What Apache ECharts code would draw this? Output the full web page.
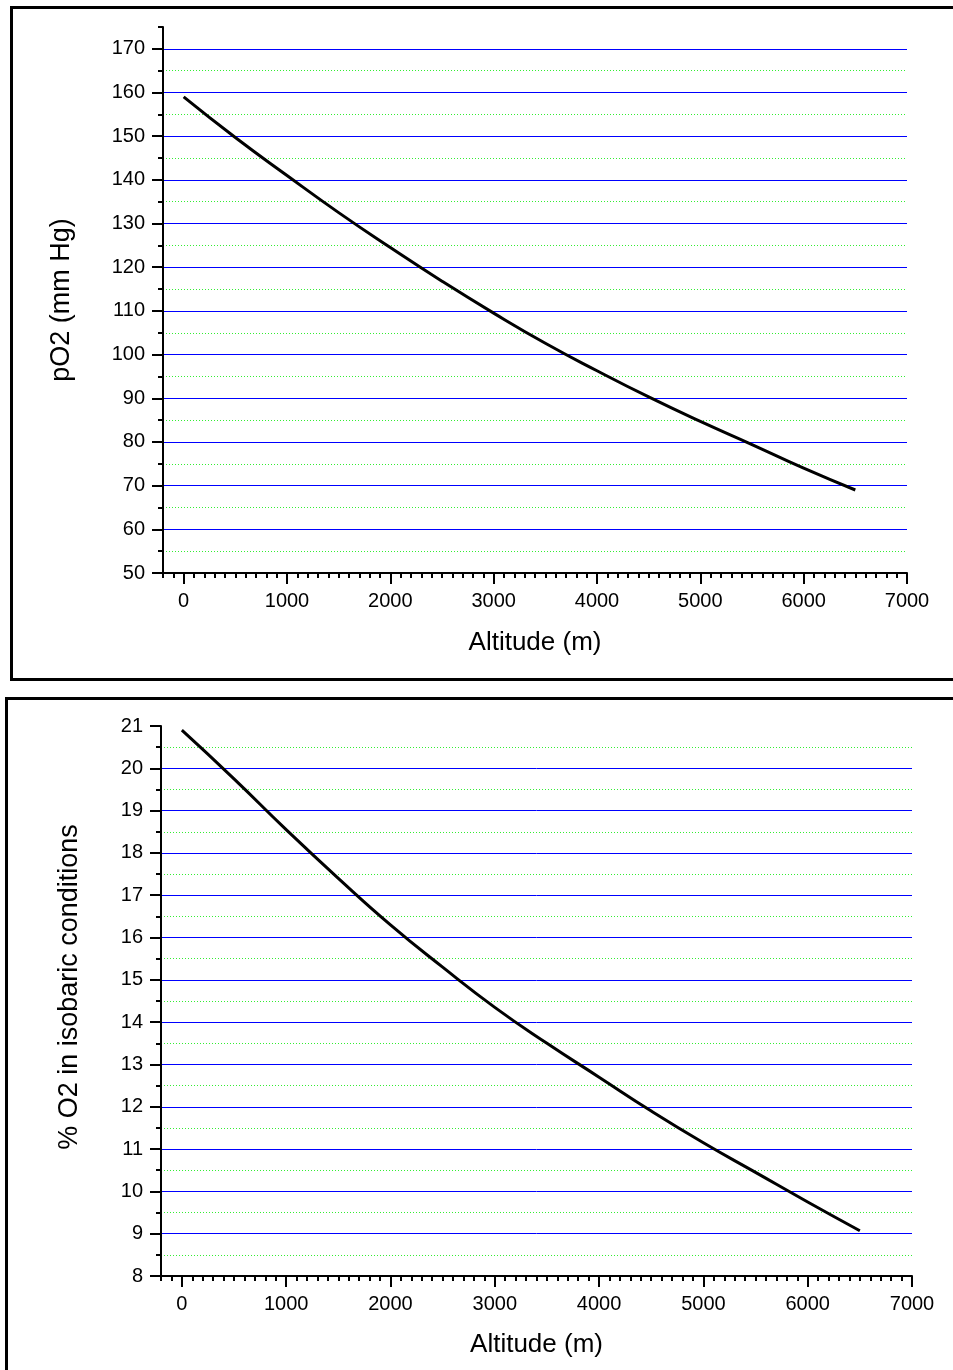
<!DOCTYPE html>
<html>
<head>
<meta charset="utf-8">
<script src="https://cdn.jsdelivr.net/npm/echarts@6/dist/echarts.min.js"></script>
<style>
  html, body { margin: 0; padding: 0; background: #fff; }
  #chart { width: 953px; height: 1370px; }
</style>
</head>
<body>
<div id="chart"></div>
<script>
  // altitude (m) and the two curves
  var altitude = [0, 500, 1000, 1500, 2000, 2500, 3000, 3500, 4000, 4500, 5000, 5500, 6000, 6500];
  var po2 = [159, 149.7, 141, 132.5, 124.5, 116.8, 109.5, 102.6, 96.3, 90.3, 84.7, 79.4, 74, 69];
  var pctO2 = [20.9, 19.75, 18.55, 17.4, 16.3, 15.3, 14.35, 13.5, 12.7, 11.9, 11.15, 10.45, 9.75, 9.07];

  var xTicks = [0, 1000, 2000, 3000, 4000, 5000, 6000, 7000];
  var po2Ticks = [50, 60, 70, 80, 90, 100, 110, 120, 130, 140, 150, 160, 170];
  var pctTicks = [8, 9, 10, 11, 12, 13, 14, 15, 16, 17, 18, 19, 20, 21];

  var FONT = 'Liberation Sans, Arial, sans-serif';
  var BLUE = '#0000ff';
  var GREEN = '#33ee33';

  var chart = echarts.init(document.getElementById('chart'));

  function pairs(xs, ys) {
    return xs.map(function (x, i) { return [x, ys[i]]; });
  }
  function plain(v) { return String(v); }

  // x axes: one for the minor ticks + axis line, one for major ticks + labels
  function xMinor(grid) {
    return {
      type: 'value', gridIndex: grid, position: 'bottom', offset: 0,
      min: -200, max: 7000, interval: 100,
      axisLine: { show: true, onZero: false, lineStyle: { color: '#000', width: 2 } },
      axisTick: { show: true, length: 5, lineStyle: { color: '#000', width: 2 } },
      axisLabel: { show: false },
      splitLine: { show: false }
    };
  }
  function xMajor(grid, gap) {
    return {
      type: 'value', gridIndex: grid, position: 'bottom', offset: 0,
      min: -200, max: 7000, interval: 100,
      name: 'Altitude (m)', nameLocation: 'middle', nameGap: gap,
      nameTextStyle: { fontFamily: FONT, fontSize: 26, color: '#000' },
      axisLine: { show: false, onZero: false },
      axisTick: { show: true, length: 11, customValues: xTicks, lineStyle: { color: '#000', width: 2 } },
      axisLabel: { show: true, customValues: xTicks, formatter: plain, margin: 18,
        fontFamily: FONT, fontSize: 20, color: '#000' },
      splitLine: { show: false }
    };
  }
  // y axes: major (labels, blue solid lines) and minor (short ticks, green dotted lines)
  function yMajor(grid, min, max, step, ticks, name, gap, maxLine, shift) {
    return {
      type: 'value', gridIndex: grid, position: 'left', offset: 0,
      min: min, max: max, interval: step,
      name: name, nameLocation: 'middle', nameGap: gap,
      nameTextStyle: { fontFamily: FONT, fontSize: 27, color: '#000', padding: [0, 0, 0, shift] },
      axisLine: { show: true, onZero: false, lineStyle: { color: '#000', width: 2 } },
      axisTick: { show: true, length: 11, customValues: ticks, lineStyle: { color: '#000', width: 2 } },
      axisLabel: { show: true, customValues: ticks, formatter: plain, margin: 18,
        fontFamily: FONT, fontSize: 20, color: '#000' },
      splitLine: { show: true, showMinLine: false, showMaxLine: maxLine, lineStyle: { color: BLUE, width: 1 } }
    };
  }
  function yMinor(grid, min, max, step) {
    return {
      type: 'value', gridIndex: grid, position: 'left', offset: 0,
      min: min, max: max, interval: step,
      axisLine: { show: false, onZero: false },
      axisTick: { show: true, length: 5, lineStyle: { color: '#000', width: 2 } },
      axisLabel: { show: false },
      splitLine: { show: true, showMinLine: true, showMaxLine: false,
        lineStyle: { color: ['rgba(0,0,0,0)', GREEN], width: 1, type: [1, 2] } }
    };
  }

  var option = {
    animation: false,
    backgroundColor: '#fff',
    grid: [
      { left: 163, right: 46, top: 27, bottom: 797, containLabel: false, outerBoundsMode: 'none' },
      { left: 161, right: 41, top: 726, bottom: 94, containLabel: false, outerBoundsMode: 'none' }
    ],
    xAxis: [xMinor(0), xMajor(0, 57), xMinor(1), xMajor(1, 56)],
    yAxis: [
      yMajor(0, 50, 175, 10, po2Ticks, 'pO2 (mm Hg)', 88, true, 0),
      yMinor(0, 50, 175, 5),
      yMajor(1, 8, 21, 1, pctTicks, '% O2 in isobaric conditions', 78, false, 28),
      yMinor(1, 8, 21, 0.5)
    ],
    series: [
      {
        type: 'line', xAxisIndex: 0, yAxisIndex: 0, smooth: true, symbol: 'none',
        lineStyle: { color: '#000', width: 3 }, data: pairs(altitude, po2), z: 5
      },
      {
        type: 'line', xAxisIndex: 2, yAxisIndex: 2, smooth: true, symbol: 'none',
        lineStyle: { color: '#000', width: 3 }, data: pairs(altitude, pctO2), z: 5
      }
    ],
    graphic: [
      { type: 'rect', shape: { x: 11.5, y: 7.5, width: 980, height: 672 },
        style: { fill: null, stroke: '#000', lineWidth: 3 } },
      { type: 'rect', shape: { x: 6.5, y: 698.5, width: 1000, height: 1000 },
        style: { fill: null, stroke: '#000', lineWidth: 3 } }
    ]
  };
  chart.setOption(option);
</script>
</body>
</html>
